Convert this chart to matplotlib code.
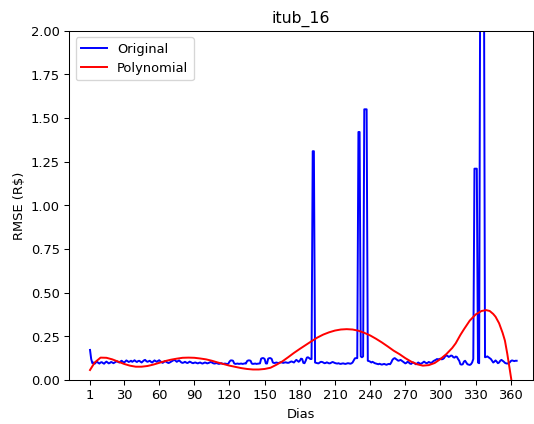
import matplotlib
matplotlib.use("Agg")
import matplotlib.pyplot as plt

title = "itub_16"
x_label = "Dias"
y_label = "RMSE (R$)"
x_ticks = [1, 30, 60, 90, 120, 150, 180, 210, 240, 270, 300, 330, 360]

# Original daily RMSE (days 1..365)
original = (
    [0.172, 0.12, 0.096, 0.10, 0.093, 0.10, 0.105, 0.098, 0.094, 0.10]
    + [0.102, 0.097, 0.093, 0.10, 0.105, 0.10, 0.095, 0.098, 0.103, 0.10]
    + [0.096, 0.10, 0.104, 0.107, 0.103, 0.10, 0.106, 0.11, 0.104, 0.10]
    + [0.105, 0.112, 0.108, 0.103, 0.106, 0.11, 0.104, 0.108, 0.113, 0.107]
    + [0.103, 0.108, 0.11, 0.105, 0.10, 0.106, 0.112, 0.115, 0.108, 0.104]
    + [0.107, 0.11, 0.104, 0.10, 0.106, 0.112, 0.108, 0.104, 0.109, 0.113]
    + [0.107, 0.102, 0.098, 0.103, 0.108, 0.104, 0.10, 0.097, 0.10, 0.104]
    + [0.108, 0.112, 0.115, 0.11, 0.104, 0.108, 0.112, 0.106, 0.10, 0.098]
    + [0.10, 0.104, 0.10, 0.097, 0.10, 0.105, 0.102, 0.098, 0.096, 0.099]
    + [0.10, 0.097, 0.095, 0.098, 0.10, 0.096, 0.094, 0.097, 0.10, 0.098]
    + [0.095, 0.097, 0.10, 0.103, 0.10, 0.096, 0.094, 0.095, 0.097, 0.094]
    + [0.092, 0.094, 0.096, 0.093, 0.092, 0.094, 0.093, 0.091, 0.093, 0.105]
    + [0.112, 0.112, 0.11, 0.095, 0.092, 0.093, 0.094, 0.092, 0.093, 0.094]
    + [0.092, 0.093, 0.095, 0.094, 0.108, 0.112, 0.112, 0.11, 0.094, 0.092]
    + [0.093, 0.094, 0.092, 0.093, 0.094, 0.095, 0.122, 0.125, 0.125, 0.12]
    + [0.095, 0.094, 0.122, 0.125, 0.125, 0.12, 0.10, 0.097, 0.098, 0.10]
    + [0.098, 0.097, 0.10, 0.102, 0.099, 0.098, 0.10, 0.101, 0.099, 0.098]
    + [0.10, 0.104, 0.106, 0.103, 0.10, 0.108, 0.115, 0.11, 0.104, 0.11]
    + [0.122, 0.12, 0.098, 0.096, 0.11, 0.128, 0.13, 0.125, 0.12, 0.12]
    + [1.31, 1.31, 0.10, 0.098, 0.096, 0.095, 0.10, 0.104, 0.103, 0.10]
    + [0.096, 0.097, 0.101, 0.098, 0.095, 0.096, 0.10, 0.103, 0.10, 0.097]
    + [0.095, 0.094, 0.096, 0.093, 0.092, 0.094, 0.095, 0.093, 0.092, 0.094]
    + [0.096, 0.095, 0.093, 0.095, 0.10, 0.112, 0.124, 0.125, 0.125, 1.42]
    + [1.42, 0.135, 0.13, 0.135, 1.55, 1.55, 1.55, 0.11, 0.108, 0.105]
    + [0.10, 0.104, 0.10, 0.096, 0.094, 0.092, 0.09, 0.093, 0.09, 0.088]
    + [0.09, 0.092, 0.089, 0.087, 0.09, 0.092, 0.09, 0.10, 0.115, 0.122]
    + [0.125, 0.12, 0.115, 0.11, 0.112, 0.115, 0.11, 0.105, 0.10, 0.095]
    + [0.098, 0.105, 0.10, 0.094, 0.092, 0.098, 0.10, 0.095, 0.09, 0.094]
    + [0.10, 0.096, 0.092, 0.095, 0.10, 0.105, 0.10, 0.096, 0.098, 0.103]
    + [0.10, 0.097, 0.102, 0.108, 0.112, 0.115, 0.12, 0.118, 0.12, 0.122]
    + [0.118, 0.12, 0.125, 0.135, 0.14, 0.138, 0.132, 0.135, 0.14, 0.138]
    + [0.13, 0.128, 0.134, 0.132, 0.12, 0.11, 0.09, 0.088, 0.09, 0.105]
    + [0.11, 0.10, 0.09, 0.088, 0.086, 0.09, 0.10, 0.12, 1.21, 1.21]
    + [1.21, 0.10, 0.096, 2.6, 2.6, 2.6, 2.6, 0.13, 0.132, 0.135]
    + [0.13, 0.125, 0.12, 0.11, 0.10, 0.105, 0.112, 0.105, 0.096, 0.10]
    + [0.11, 0.115, 0.11, 0.105, 0.098, 0.095, 0.094, 0.096, 0.10, 0.108]
    + [0.112, 0.11, 0.108, 0.11, 0.11]
)
days = list(range(1, len(original) + 1))

# Polynomial fit curve
poly_days = [1, 5, 10, 15, 20, 25, 30, 35, 40, 45, 50, 55, 60, 65, 70, 75, 80, 85,
             90, 95, 100, 105, 110, 115, 120, 125, 130, 135, 140, 145, 150, 155,
             160, 165, 170, 175, 180, 185, 190, 195, 200, 205, 210, 215, 220, 225,
             230, 235, 240, 245, 250, 255, 260, 265, 270, 275, 280, 285, 290, 295,
             300, 305, 310, 313, 317, 320, 325, 330, 335, 339, 342, 345, 347, 350,
             353, 355, 357, 359, 360.5, 362, 365]
poly_vals = [0.057, 0.10, 0.128, 0.127, 0.118, 0.105, 0.092, 0.082, 0.076, 0.076,
             0.080, 0.088, 0.098, 0.108, 0.116, 0.122, 0.127, 0.128, 0.127, 0.123,
             0.118, 0.110, 0.100, 0.091, 0.082, 0.075, 0.068, 0.063, 0.060, 0.060,
             0.063, 0.070, 0.087, 0.106, 0.13, 0.155, 0.178, 0.20, 0.222, 0.243,
             0.26, 0.273, 0.283, 0.289, 0.291, 0.289, 0.282, 0.27, 0.255, 0.236,
             0.215, 0.192, 0.168, 0.148, 0.125, 0.105, 0.09, 0.082, 0.085, 0.097,
             0.12, 0.148, 0.183, 0.21, 0.258, 0.29, 0.34, 0.375, 0.395, 0.40,
             0.395, 0.378, 0.362, 0.325, 0.27, 0.225, 0.15, 0.065, 0.0, -0.07, -0.22]

DPI = 93.75
fig = plt.figure(figsize=(534.3 / DPI, 424.3 / DPI), dpi=DPI)
ax = fig.add_axes([69 / 534, 44 / 424, 464 / 534, 349 / 424])
ax.plot(days, original, color="blue", label="Original")
ax.plot(poly_days, poly_vals, color="red", label="Polynomial")
ax.set_xlim(-16.9, 379.2)
ax.set_ylim(0, 2.0)
ax.set_xticks(x_ticks)
ax.set_title(title)
ax.set_xlabel(x_label)
ax.set_ylabel(y_label)
ax.legend(loc="upper left")
fig.savefig("out.png", dpi=DPI)
